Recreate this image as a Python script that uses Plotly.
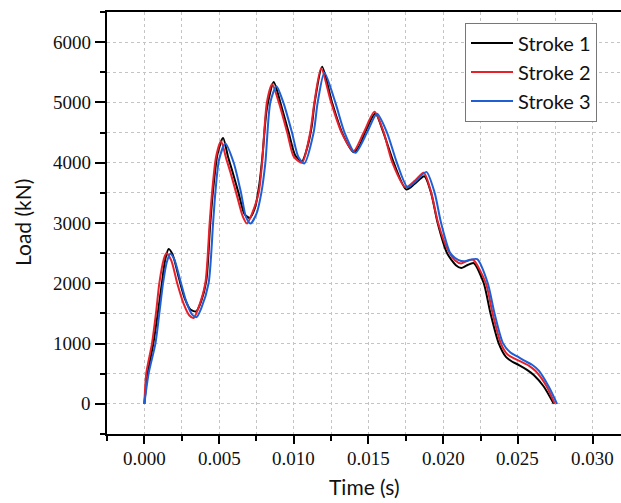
import plotly.graph_objects as go

# ---- data ----
t1 = [0, 0.0002, 0.0006, 0.0009, 0.0012, 0.0014, 0.00163, 0.0019, 0.0023, 0.0027, 0.0031, 0.00348,
      0.0038, 0.00415, 0.0044, 0.0046, 0.0049, 0.00527, 0.0056, 0.0059, 0.0063, 0.0067, 0.00705,
      0.0074, 0.0077, 0.0079, 0.0082, 0.00866, 0.0091, 0.00966, 0.0101, 0.01055, 0.0109, 0.0112,
      0.0114, 0.0119, 0.01256, 0.01323, 0.01401, 0.0144, 0.0148, 0.01546, 0.0160, 0.01669, 0.01753,
      0.0181, 0.01874, 0.01919, 0.01963, 0.02026, 0.02085, 0.02121, 0.0216, 0.02204, 0.02271,
      0.02316, 0.02371, 0.0242, 0.0246, 0.0251, 0.02561, 0.02606, 0.02673, 0.0274]
s1 = [0, 480, 1000, 1500, 2050, 2400, 2570, 2470, 2100, 1750, 1560, 1535,
      1700, 2050, 2950, 3550, 4150, 4410, 4100, 3850, 3500, 3150, 3085,
      3250, 3650, 4100, 4900, 5340, 5000, 4500, 4120, 4025, 4250, 4600,
      5000, 5590, 5000, 4500, 4175, 4280, 4520, 4815, 4500, 4000, 3555,
      3650, 3776, 3500, 3000, 2500, 2300, 2254, 2300, 2335, 2005,
      1507, 1008, 780, 703, 640, 565, 480, 288, 0]

t2 = [0, 0.00013, 0.00051, 0.0008, 0.0010, 0.0013, 0.00147, 0.0018, 0.0022, 0.0026, 0.0030, 0.0033,
      0.0036, 0.00408, 0.00437, 0.00453, 0.0048, 0.00513, 0.0055, 0.00575, 0.0062, 0.0066, 0.00687,
      0.0072, 0.00765, 0.00788, 0.0082, 0.00855, 0.0090, 0.00956, 0.0100, 0.01055, 0.0111, 0.01138,
      0.01183, 0.0125, 0.0132, 0.0140, 0.01468, 0.0154, 0.0160, 0.0166, 0.01747, 0.0181, 0.0187,
      0.0192, 0.01966, 0.0203, 0.0208, 0.0212, 0.0216, 0.0220, 0.02285, 0.0233, 0.02385, 0.0243,
      0.0247, 0.0252, 0.02575, 0.0262, 0.0269, 0.02747]
s2 = [0, 510, 1000, 1550, 2000, 2400, 2500, 2380, 2000, 1680, 1470, 1425,
      1580, 2000, 3000, 3500, 4100, 4357, 4050, 3850, 3450, 3100, 2990,
      3150, 3500, 4000, 5000, 5300, 5000, 4500, 4100, 4000, 4500, 5000,
      5565, 5000, 4500, 4190, 4500, 4845, 4520, 4000, 3593, 3700, 3832,
      3500, 3000, 2560, 2380, 2330, 2370, 2390, 2005, 1507, 1008, 820,
      759, 700, 631, 540, 300, 0]

t3 = [0, 0.00029, 0.00074, 0.0010, 0.00125, 0.0015, 0.00174, 0.0020, 0.0024, 0.0028, 0.0032, 0.0035,
      0.0038, 0.0043, 0.0046, 0.00475, 0.0050, 0.00542, 0.00598, 0.00647, 0.0068, 0.0071,
      0.0075, 0.00783, 0.0081, 0.00843, 0.00884, 0.0093, 0.00988, 0.0103, 0.0107, 0.01133, 0.0116,
      0.01205, 0.01278, 0.0134, 0.01412, 0.0149, 0.01557, 0.01624, 0.0169, 0.01762, 0.0182, 0.01887,
      0.01943, 0.01986, 0.02048, 0.0210, 0.0214, 0.0218, 0.02227, 0.02298, 0.02343, 0.0240, 0.0245,
      0.02497, 0.0254, 0.02595, 0.0264, 0.02706, 0.02762]
s3 = [0, 510, 1000, 1500, 2000, 2350, 2490, 2400, 2050, 1700, 1480, 1440,
      1580, 2000, 3000, 3500, 4050, 4320, 4000, 3500, 3100, 2990,
      3150, 3500, 4000, 5000, 5270, 5000, 4500, 4100, 3987, 4500, 5000,
      5494, 5000, 4500, 4164, 4500, 4812, 4500, 4000, 3593, 3700, 3848,
      3500, 3000, 2500, 2390, 2364, 2390, 2400, 2005, 1507, 1008, 850,
      786, 720, 648, 550, 288, 0]

names = ["Stroke 1", "Stroke 2", "Stroke 3"]
colors = ["#000000", "#e8202a", "#1f5fd6"]

x_ticks = [0.000, 0.005, 0.010, 0.015, 0.020, 0.025, 0.030]
x_labels = ["0.000", "0.005", "0.010", "0.015", "0.020", "0.025", "0.030"]
y_ticks = [0, 1000, 2000, 3000, 4000, 5000, 6000]
y_labels = ["0", "1000", "2000", "3000", "4000", "5000", "6000"]
x_title = "Time (s)"
y_title = "Load (kN)"

fig = go.Figure()
for t, s, n, c in zip([t1, t2, t3], [s1, s2, s3], names, colors):
    fig.add_trace(go.Scatter(x=t, y=s, name=n, mode="lines",
                             line=dict(color=c, width=2, shape="spline", smoothing=0.7)))

serif = "Liberation Serif, DejaVu Serif, serif"
sans = "Lato"
minor_common = dict(ticks="outside", ticklen=5, tickwidth=1.5, tickcolor="#000",
                    showgrid=True, gridcolor="#c4c4c4", griddash="dot", gridwidth=1)

fig.update_layout(
    width=621, height=503,
    margin=dict(l=107, r=0, t=12, b=69),
    paper_bgcolor="white", plot_bgcolor="white",
    showlegend=True,
    legend=dict(x=0.6965, y=0.975, xanchor="left", yanchor="top",
                bgcolor="white", bordercolor="#777", borderwidth=1,
                font=dict(family=sans, size=20, color="#111"),
                itemwidth=42, tracegroupgap=0),
)
fig.update_xaxes(range=[-0.0025, 0.0319], tickmode="array", tickvals=x_ticks,
                 showticklabels=False,
                 ticks="outside", ticklen=8, tickwidth=1.5, tickcolor="#000",
                 showline=True, linecolor="#000", linewidth=2, mirror=True,
                 zeroline=False,
                 showgrid=True, gridcolor="#c4c4c4", griddash="dot", gridwidth=1,
                 minor=dict(dtick=0.0025, tick0=0, **minor_common))
fig.update_yaxes(range=[-500, 6500], tickmode="array", tickvals=y_ticks,
                 showticklabels=False,
                 ticks="outside", ticklen=10, tickwidth=1.5, tickcolor="#000",
                 showline=True, linecolor="#000", linewidth=2,
                 zeroline=False,
                 showgrid=True, gridcolor="#c4c4c4", griddash="dot", gridwidth=1,
                 minor=dict(dtick=500, tick0=0, **minor_common))

tick_font = dict(family=serif, size=19, color="#111")
for v, lab in zip(x_ticks, x_labels):
    fig.add_annotation(x=v, xref="x", y=0, yref="paper", text=lab, showarrow=False,
                       xanchor="center", yanchor="middle", yshift=-24, font=tick_font)
for v, lab in zip(y_ticks, y_labels):
    fig.add_annotation(x=0, xref="paper", y=v, yref="y", text=lab, showarrow=False,
                       xanchor="right", yanchor="middle", xshift=-14, font=tick_font)

title_font = dict(family=sans, size=21, color="#111")
fig.add_annotation(x=0.5, xref="paper", y=0, yref="paper", text=x_title, showarrow=False,
                   xanchor="center", yanchor="middle", yshift=-52, font=title_font)
fig.add_annotation(x=0, xref="paper", y=0.5, yref="paper", text=y_title, showarrow=False,
                   textangle=-90, xanchor="center", yanchor="middle", xshift=-85,
                   font=title_font)

fig.write_html("out.html")
